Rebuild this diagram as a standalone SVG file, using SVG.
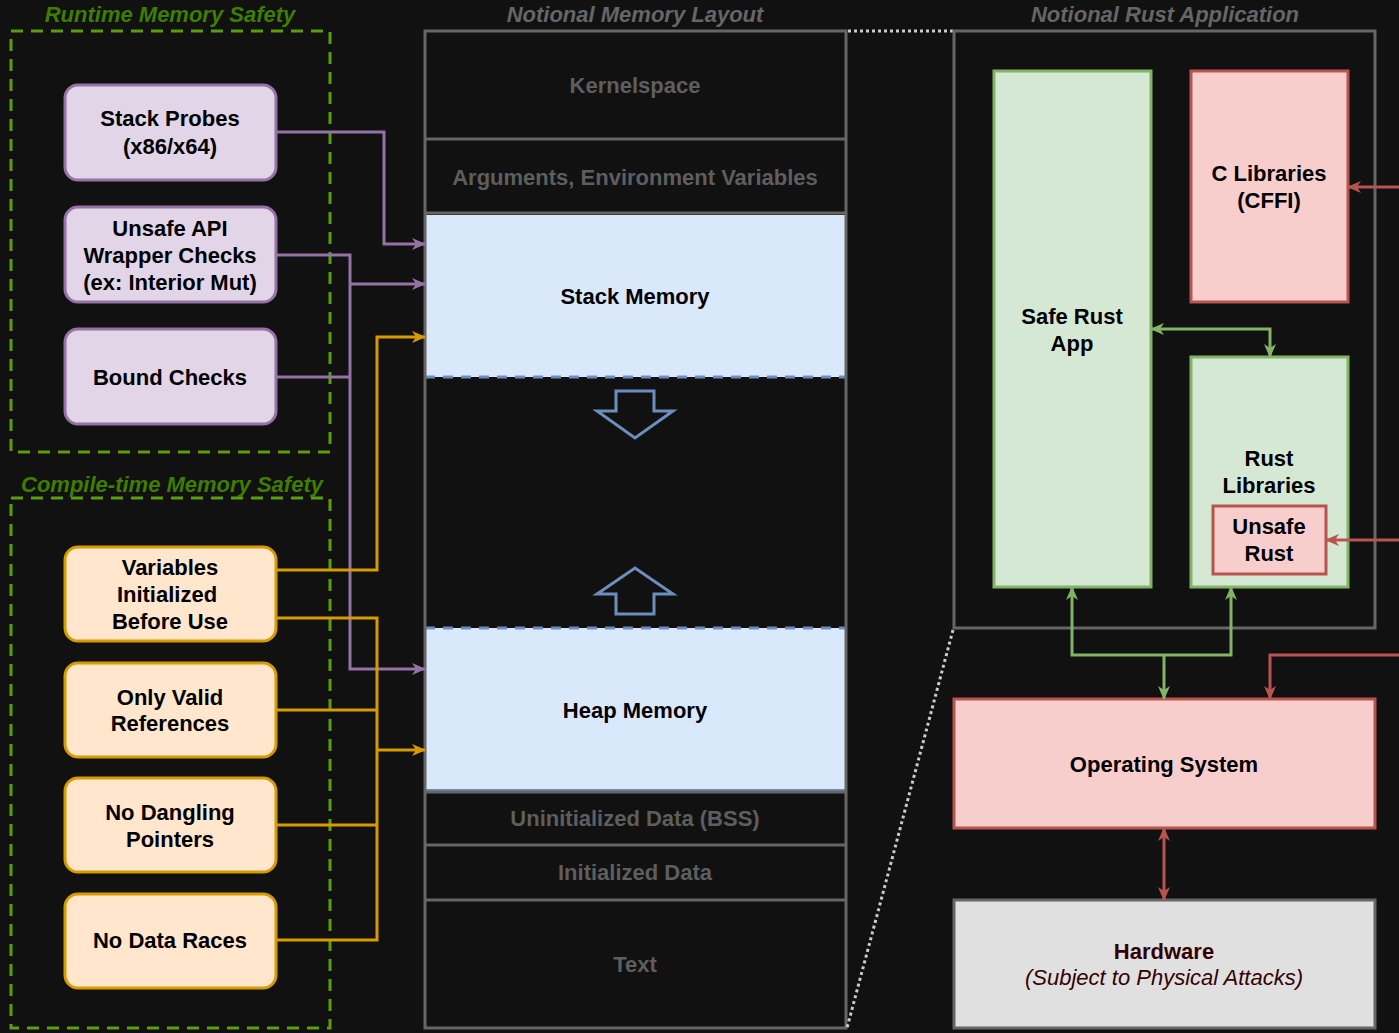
<svg xmlns="http://www.w3.org/2000/svg" width="1399" height="1033" viewBox="0 0 1399 1033">
<defs>
<style>
text{font-family:"Liberation Sans",Arial,Helvetica,sans-serif;font-size:22px;font-weight:bold;text-anchor:middle;fill:#000}
.title{font-style:italic;fill:#666}
.gtitle{font-style:italic;fill:#3f7d00}
.gray{fill:#5e5e5e}
.grp{fill:none;stroke:#5a9e0c;stroke-width:3;stroke-dasharray:12,8}
.purple{fill:#e1d5e7;stroke:#9673a6;stroke-width:3}
.orange{fill:#ffe6cc;stroke:#d79b00;stroke-width:3}
.green{fill:#d5e8d4;stroke:#82b366;stroke-width:3}
.red{fill:#f8cecc;stroke:#b85450;stroke-width:3}
.seg{fill:none;stroke:#666;stroke-width:3}
.cp{fill:none;stroke:#9673a6;stroke-width:3}
.co{fill:none;stroke:#d79b00;stroke-width:3}
.cg{fill:none;stroke:#82b366;stroke-width:3}
.cr{fill:none;stroke:#b85450;stroke-width:3}
</style>
<marker id="ap" markerUnits="userSpaceOnUse" markerWidth="14" markerHeight="12" refX="13" refY="6" orient="auto-start-reverse"><path d="M0,0 L14,6 L0,12 L4,6 Z" fill="#9673a6"/></marker>
<marker id="ao" markerUnits="userSpaceOnUse" markerWidth="14" markerHeight="12" refX="13" refY="6" orient="auto-start-reverse"><path d="M0,0 L14,6 L0,12 L4,6 Z" fill="#d79b00"/></marker>
<marker id="ag" markerUnits="userSpaceOnUse" markerWidth="14" markerHeight="12" refX="13" refY="6" orient="auto-start-reverse"><path d="M0,0 L14,6 L0,12 L4,6 Z" fill="#82b366"/></marker>
<marker id="ar" markerUnits="userSpaceOnUse" markerWidth="14" markerHeight="12" refX="13" refY="6" orient="auto-start-reverse"><path d="M0,0 L14,6 L0,12 L4,6 Z" fill="#b85450"/></marker>
</defs>
<rect x="0" y="0" width="1399" height="1033" fill="#111111"/>

<g id="runtime-group">
<rect class="grp" x="11" y="31" width="319" height="421"/>
<text class="gtitle" x="170" y="22">Runtime Memory Safety</text>
</g>
<g id="compile-group">
<rect class="grp" x="11" y="498" width="319" height="530"/>
<text class="gtitle" x="172" y="492">Compile-time Memory Safety</text>
</g>

<g id="stack-probes"><rect class="purple" x="65" y="85" width="211" height="95" rx="13"/><text x="170" y="126">Stack Probes</text><text x="170" y="154">(x86/x64)</text></g>
<g id="unsafe-api"><rect class="purple" x="65" y="207" width="211" height="95" rx="13"/><text x="170" y="236">Unsafe API</text><text x="170" y="263">Wrapper Checks</text><text x="170" y="290">(ex: Interior Mut)</text></g>
<g id="bound-checks"><rect class="purple" x="65" y="329" width="211" height="95" rx="13"/><text x="170" y="385">Bound Checks</text></g>

<g id="vars-init"><rect class="orange" x="65" y="547" width="211" height="94" rx="13"/><text x="170" y="575">Variables</text><text x="167" y="602">Initialized</text><text x="170" y="629">Before Use</text></g>
<g id="valid-refs"><rect class="orange" x="65" y="663" width="211" height="94" rx="13"/><text x="170" y="705">Only Valid</text><text x="170" y="731">References</text></g>
<g id="no-dangling"><rect class="orange" x="65" y="778" width="211" height="94" rx="13"/><text x="170" y="820">No Dangling</text><text x="170" y="847">Pointers</text></g>
<g id="no-races"><rect class="orange" x="65" y="894" width="211" height="94" rx="13"/><text x="170" y="948">No Data Races</text></g>

<g id="memory-layout">
<text class="title" x="635" y="22">Notional Memory Layout</text>
<rect x="425" y="215" width="421" height="162" fill="#dae8fc"/>
<rect x="425" y="628" width="421" height="162" fill="#dae8fc"/>
<line x1="425" y1="377" x2="846" y2="377" stroke="#6c8ebf" stroke-width="3" stroke-dasharray="10,8"/>
<line x1="425" y1="628" x2="846" y2="628" stroke="#6c8ebf" stroke-width="3" stroke-dasharray="10,8"/>
<line x1="425" y1="790" x2="846" y2="790" stroke="#6c8ebf" stroke-width="2"/>
<rect class="seg" x="425" y="31" width="421" height="997"/>
<line class="seg" x1="425" y1="139" x2="846" y2="139"/>
<line class="seg" x1="425" y1="213" x2="846" y2="213"/>
<line class="seg" x1="425" y1="792" x2="846" y2="792"/>
<line class="seg" x1="425" y1="845" x2="846" y2="845"/>
<line class="seg" x1="425" y1="900" x2="846" y2="900"/>
<text class="gray" x="635" y="93">Kernelspace</text>
<text class="gray" x="635" y="185">Arguments, Environment Variables</text>
<text x="635" y="304">Stack Memory</text>
<path d="M616,391 H654 V411 H673 L635,438 L597,411 H616 Z" fill="none" stroke="#6c8ebf" stroke-width="3"/>
<path d="M616,614 H654 V594 H673 L635,568 L597,594 H616 Z" fill="none" stroke="#6c8ebf" stroke-width="3"/>
<text x="635" y="718">Heap Memory</text>
<text class="gray" x="635" y="826">Uninitialized Data (BSS)</text>
<text class="gray" x="635" y="880">Initialized Data</text>
<text class="gray" x="635" y="972">Text</text>
</g>

<g id="zoom-lines">
<line x1="848" y1="31" x2="953" y2="31" stroke="#cccccc" stroke-width="3" stroke-dasharray="3,3"/>
<line x1="953" y1="630" x2="847" y2="1028" stroke="#cccccc" stroke-width="3" stroke-dasharray="3,3"/>
</g>

<g id="rust-app">
<rect class="seg" x="954" y="31" width="421" height="597"/>
<text class="title" x="1165" y="22">Notional Rust Application</text>
</g>
<g id="safe-rust-app"><rect class="green" x="994" y="71" width="157" height="516"/><text x="1072" y="324">Safe Rust</text><text x="1072" y="351">App</text></g>
<g id="c-libraries"><rect class="red" x="1191" y="71" width="157" height="231"/><text x="1269" y="181">C Libraries</text><text x="1269" y="208">(CFFI)</text></g>
<g id="rust-libraries"><rect class="green" x="1191" y="357" width="157" height="230"/><text x="1269" y="466">Rust</text><text x="1269" y="493">Libraries</text></g>
<g id="unsafe-rust"><rect class="red" x="1213" y="506" width="113" height="68"/><text x="1269" y="534">Unsafe</text><text x="1269" y="561">Rust</text></g>
<g id="operating-system"><rect class="red" x="954" y="699" width="421" height="129"/><text x="1164" y="772">Operating System</text></g>
<g id="hardware"><rect x="954" y="900" width="421" height="128" fill="#e0e0e0" stroke="#666" stroke-width="3"/><text x="1164" y="959" fill="#330000" style="fill:#330000">Hardware</text><text x="1164" y="985" style="fill:#330000;font-weight:normal;font-style:italic">(Subject to Physical Attacks)</text></g>

<g id="connectors">
<path class="cp" d="M276,132 H384 V244 H425" marker-end="url(#ap)"/>
<path class="cp" d="M276,255 H350 V669 H425" marker-end="url(#ap)"/>
<path class="cp" d="M350,284 H425" marker-end="url(#ap)"/>
<path class="cp" d="M276,377 H350"/>
<path class="co" d="M276,570 H377 V337 H425" marker-end="url(#ao)"/>
<path class="co" d="M276,618 H377 V940 H276"/>
<path class="co" d="M276,710 H377"/>
<path class="co" d="M276,825 H377"/>
<path class="co" d="M377,750 H425" marker-end="url(#ao)"/>
<path class="cg" d="M1151,329 H1270 V357" marker-start="url(#ag)" marker-end="url(#ag)"/>
<path class="cg" d="M1164,655 V699" marker-end="url(#ag)"/>
<path class="cg" d="M1072,587 V655 H1231 V587" marker-start="url(#ag)" marker-end="url(#ag)"/>
<path class="cr" d="M1399,187 H1348" marker-end="url(#ar)"/>
<path class="cr" d="M1399,540 H1326" marker-end="url(#ar)"/>
<path class="cr" d="M1399,655 H1270 V699" marker-end="url(#ar)"/>
<path class="cr" d="M1164,828 V900" marker-start="url(#ar)" marker-end="url(#ar)"/>
</g>
</svg>
